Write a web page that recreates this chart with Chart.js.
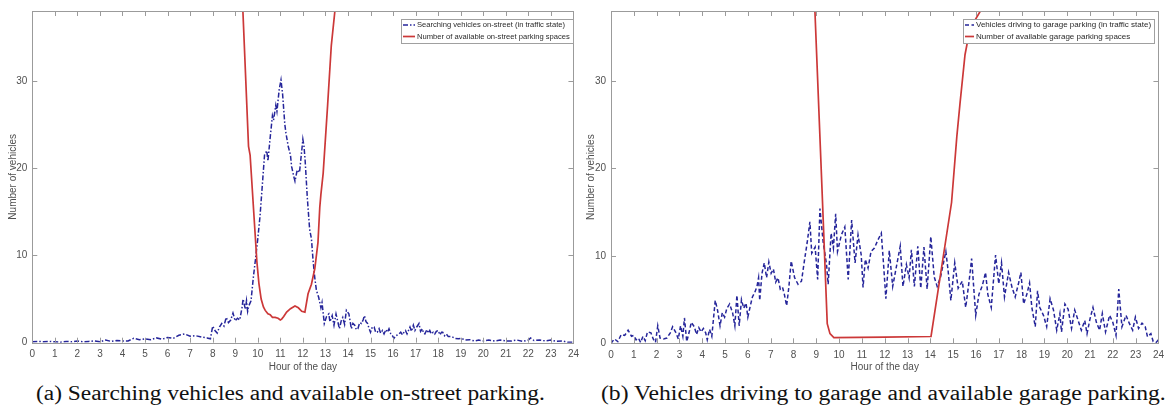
<!DOCTYPE html>
<html>
<head>
<meta charset="utf-8">
<script src="https://cdn.jsdelivr.net/npm/chart.js@4.4.1/dist/chart.umd.min.js"></script>
<style>
  body { margin: 0; background: #fff; width: 1170px; height: 410px; overflow: hidden; position: relative; }
  .panel { position: absolute; top: 0; width: 585px; height: 375px; }
  .cap { position: absolute; top: 383px; font-family: "Liberation Serif", serif; font-size: 20px; line-height: 20px;
         color: #111; white-space: nowrap; transform-origin: 0 0; }
</style>
</head>
<body>
<div class="panel" style="left:0"><canvas id="chartA" width="585" height="375"></canvas></div>
<div class="panel" style="left:585px"><canvas id="chartB" width="585" height="375"></canvas></div>
<div class="cap" id="capA" data-w="509" style="left:36px">(a) Searching vehicles and available on-street parking.</div>
<div class="cap" id="capB" data-w="565" style="left:601px">(b) Vehicles driving to garage and available garage parking.</div>
<script>
// axis ticks
const hourTicks = [0,1,2,3,4,5,6,7,8,9,10,11,12,13,14,15,16,17,18,19,20,21,22,23,24];
const vehicleTicks = [0, 10, 20, 30];

// (a) searching vehicles on-street
const streetHours = [0,0.25,0.5,0.75,1,1.25,1.5,1.75,2,2.25,2.5,2.75,3,3.25,3.5,3.75,4,4.25,4.5,4.75,5,5.25,5.5,5.75,6,6.25,6.5,6.75,7,7.25,7.5,7.75,7.9,
  8,8.1,8.2,8.3,8.4,8.5,8.6,8.7,8.8,8.9,9,9.1,9.2,9.3,9.35,9.45,9.5,9.55,9.6,9.7,9.8,9.9,
  10,10.1,10.2,10.3,10.4,10.45,10.55,10.65,10.7,10.8,10.85,10.95,11.03,11.1,11.2,11.25,11.35,11.45,11.5,11.6,11.65,11.75,11.85,11.95,
  12,12.05,12.1,12.2,12.3,12.38,12.45,12.53,12.6,12.7,12.8,12.85,12.95,13.05,13.15,13.2,13.3,13.38,13.47,13.55,13.62,13.7,13.77,13.85,13.93,
  14.04,14.1,14.15,14.22,14.3,14.37,14.44,14.52,14.6,14.67,14.73,14.8,14.87,14.94,15,15.08,15.16,15.23,15.3,15.38,15.45,15.53,15.6,15.68,15.75,15.82,15.9,15.97,
  16.04,16.12,16.2,16.26,16.34,16.42,16.5,16.55,16.62,16.7,16.75,16.82,16.9,16.97,17.05,17.15,17.22,17.3,17.35,17.41,17.5,17.57,17.63,17.7,17.78,17.85,17.92,
  18,18.08,18.15,18.2,18.28,18.36,18.45,18.6,18.75,18.9,19.03,19.2,19.4,19.6,19.8,20,20.25,20.5,20.75,21,21.25,21.5,21.75,22,22.1,22.25,22.5,22.75,23,23.25,23.5,23.75,24];
const streetSearching = [0.1,0.15,0.1,0.15,0.1,0.05,0.15,0.1,0.2,0.1,0.15,0.2,0.1,0.3,0.15,0.25,0.2,0.2,0.5,0.35,0.45,0.35,0.55,0.4,0.6,0.5,0.85,1.0,0.75,0.8,0.65,0.55,0.45,
  1.9,1.4,1.1,1.8,2.2,1.9,2.9,2.3,2.6,3.4,2.5,2.8,2.6,4.0,5.0,3.8,4.8,3.6,4.2,4.8,7.4,9.6,
  11.9,14.5,18.0,21.5,22.0,20.8,23.5,26.0,25.5,27.2,26.5,29.0,30.1,28.5,25.0,24.0,22.5,21.5,20.2,19.0,18.5,19.8,19.5,22.0,
  23.3,22.5,20.9,16.5,13.0,11.9,9.5,7.4,6.0,5.2,4.0,4.6,2.2,3.0,3.3,2.4,3.1,2.0,3.3,2.4,1.6,2.5,2.9,2.1,3.7,
  3.3,2.4,1.6,2.2,2.0,1.5,1.6,2.3,2.2,2.6,3.1,2.4,2.2,1.6,1.2,1.8,1.8,1.2,1.2,1.6,1.1,1.4,1.0,1.5,1.2,1.6,1.0,0.8,
  0.5,0.8,0.9,1.0,1.2,0.9,1.3,1.4,1.0,1.5,1.8,1.3,2.0,1.4,1.8,2.2,1.3,1.6,1.1,1.0,1.5,1.1,1.4,1.0,1.2,1.0,1.3,
  1.4,0.9,1.2,1.2,0.8,1.0,0.7,0.7,0.5,0.45,0.5,0.3,0.35,0.2,0.3,0.2,0.3,0.2,0.3,0.2,0.2,0.3,0.15,0.3,0.55,0.25,0.3,0.2,0.3,0.15,0.2,0.05,0.05];

// (a) available on-street parking spaces
const streetFreeHours = [9.0,9.34,9.59,9.66,9.96,10.05,10.15,10.25,10.33,10.45,10.55,10.65,10.77,10.9,11.0,11.06,11.15,11.28,11.45,11.65,11.8,11.95,
  12.09,12.23,12.38,12.53,12.67,12.75,12.8,12.9,13.1,13.2,13.26,13.44,13.7];
const streetFree = [58,38,22.5,21.5,9.3,6.8,5.0,4.1,3.7,3.3,3.2,2.9,2.9,2.8,2.6,2.7,3.0,3.5,3.9,4.2,4.0,3.6,
  3.5,5.6,6.7,8.5,11.5,15.5,17.0,19.4,27.3,31.5,34,38.5,45];

// (b) vehicles driving to garage parking
const garageHours = [0,0.15,0.3,0.45,0.6,0.75,0.9,1,1.1,1.2,1.3,1.4,1.5,1.6,1.75,1.85,1.95,2.05,2.15,2.3,2.45,2.6,2.7,2.85,2.95,3.05,3.15,3.22,3.32,3.42,3.52,3.65,3.75,3.85,3.95,
  4.05,4.15,4.22,4.32,4.42,4.5,4.57,4.67,4.78,4.88,4.98,5.08,5.2,5.33,5.43,5.52,5.62,5.72,5.82,5.92,6,6.1,6.2,6.3,6.4,6.47,6.52,6.62,6.72,6.82,6.92,
  7.02,7.12,7.22,7.32,7.42,7.52,7.6,7.7,7.8,7.9,8.05,8.2,8.35,8.5,8.6,8.72,8.8,8.95,9.06,9.16,9.3,9.45,9.52,9.65,9.75,9.85,9.93,
  10.1,10.25,10.4,10.55,10.7,10.83,10.97,11.05,11.15,11.27,11.4,11.55,11.7,11.85,11.95,12.05,12.2,12.35,12.5,12.68,12.8,12.95,13.07,13.17,13.3,13.45,13.58,13.72,13.86,
  14.02,14.17,14.3,14.45,14.6,14.68,14.78,14.9,15.07,15.22,15.4,15.55,15.7,15.81,15.99,16.13,16.28,16.42,16.52,16.67,16.86,17,17.12,17.25,17.43,17.58,17.72,17.87,17.97,
  18.09,18.23,18.35,18.45,18.6,18.7,18.8,18.96,19.1,19.25,19.4,19.54,19.68,19.75,19.9,20.04,20.19,20.33,20.48,20.62,20.77,20.87,21,21.13,21.28,21.42,21.54,21.68,21.86,
  22,22.14,22.26,22.4,22.58,22.72,22.87,22.99,23.13,23.28,23.42,23.52,23.67,23.77,23.9,24];
const garageDriving = [0,0.5,0.2,1.0,0.9,1.5,0.8,0.9,0.4,0.6,0.1,0.8,0.3,1.3,1.2,0.5,0.1,2.0,0.6,0.5,0.6,1.2,1.9,1.2,0.5,2.0,0.8,2.9,0.2,1.2,2.4,1.9,1.0,1.8,1.3,
  1.7,1.2,0.4,1.6,0.8,3.0,4.9,3.8,2.0,3.5,3.0,4.0,4.5,3.5,2.0,5.5,2.0,5.0,4.0,4.6,3.0,4.2,5.3,5.8,6.5,7.5,4.9,8.0,9.2,7.5,9.3,
  8.0,8.5,7.0,7.5,6.2,6.4,5.6,4.3,6.5,9.4,7.5,6.75,7.1,9.8,11.5,13.9,10.3,11.0,7.3,15.4,11.6,9.0,6.75,12.6,10.9,14.8,10.5,
  12.4,13.3,7.3,14.1,9.2,12.4,10.1,6.4,9.6,8.6,10.5,10.9,11.8,12.6,9.0,5.1,10.6,6.5,8.6,11.1,6.5,9.0,7.5,10.7,6.5,11.1,6.3,11.0,6.2,
  12.2,7.6,6.5,7.6,9.5,10.5,8.3,4.9,9.2,6.3,7.1,4.1,7.1,9.7,3.2,5.6,6.6,8.1,5.6,4.1,10.1,6.8,9.2,5.3,8.1,6.4,5.3,6.9,8.1,
  4.5,5.6,6.9,4.1,1.9,6.0,4.1,3.2,1.9,5.1,3.8,1.5,3.4,1.3,4.5,3.9,1.7,3.8,2.6,1.5,2.6,1.1,2.8,4.1,2.4,1.5,3.4,1.3,3.2,
  2.4,0.9,6.2,1.9,3.2,2.3,1.5,3.0,1.7,2.3,1.9,0.75,1.1,0.2,0.1,0.4];

// (b) available garage parking spaces
const garageFreeHours = [8.6,8.94,9.26,9.48,9.6,9.77,12.0,14.03,14.93,15.16,15.3,15.52,15.74,16.31,16.6];
const garageFree = [60,38,17,2.25,1.1,0.65,0.7,0.78,16.1,23.6,27.4,33,36,38.5,39.5];

const BLUE = '#25259a';
const RED = '#cc3838';
const GREY = '#505050';
const SANS = '"Liberation Sans", Arial, sans-serif';

const pts = (xs, ys) => xs.map((x, i) => ({ x: x, y: ys[i] }));

// box round the plot with inward tick marks (MATLAB style)
const framePlugin = {
  id: 'frame',
  afterDatasetsDraw(chart) {
    const { ctx, chartArea: a, scales } = chart;
    ctx.save();
    ctx.strokeStyle = '#9b9b9b';
    ctx.lineWidth = 1;
    ctx.strokeRect(Math.round(a.left) + 0.5, Math.round(a.top) + 0.5, Math.round(a.right - a.left), Math.round(a.bottom - a.top));
    ctx.beginPath();
    scales.x.ticks.forEach(t => {
      const px = Math.round(scales.x.getPixelForValue(t.value)) + 0.5;
      ctx.moveTo(px, a.bottom); ctx.lineTo(px, a.bottom - 5);
      ctx.moveTo(px, a.top); ctx.lineTo(px, a.top + 5);
    });
    scales.y.ticks.forEach(t => {
      const py = Math.round(scales.y.getPixelForValue(t.value)) + 0.5;
      ctx.moveTo(a.left, py); ctx.lineTo(a.left + 5, py);
      ctx.moveTo(a.right, py); ctx.lineTo(a.right - 5, py);
    });
    ctx.stroke();
    ctx.restore();
  }
};

// legend box inside the top right corner
const legendPlugin = {
  id: 'boxLegend',
  afterDraw(chart, args, opts) {
    const { ctx, chartArea: a } = chart;
    const sets = chart.data.datasets;
    ctx.save();
    ctx.font = opts.size + 'px ' + SANS;
    const tw = Math.max(...sets.map(d => ctx.measureText(d.label).width));
    const w = Math.round(tw + opts.textOff + 3), h = 24;
    const x = Math.round(a.right - opts.inset - w), y = Math.round(a.top + 8);
    ctx.fillStyle = '#fff';
    ctx.fillRect(x, y, w, h);
    ctx.strokeStyle = '#a0a0a0';
    ctx.lineWidth = 1;
    ctx.strokeRect(x + 0.5, y + 0.5, w, h);
    sets.forEach((d, i) => {
      const ly = y + 6 + i * 11.5;
      ctx.strokeStyle = d.borderColor;
      ctx.lineWidth = d.borderWidth;
      ctx.setLineDash(d.borderDash || []);
      ctx.beginPath();
      ctx.moveTo(x + 2, ly);
      ctx.lineTo(x + opts.textOff - 2, ly);
      ctx.stroke();
      ctx.setLineDash([]);
      ctx.fillStyle = '#2a2a2a';
      ctx.textBaseline = 'middle';
      ctx.fillText(d.label, x + opts.textOff, ly);
    });
    ctx.restore();
  }
};

function makeChart(id, cfg) {
  return new Chart(document.getElementById(id), {
    type: 'line',
    data: {
      datasets: [
        { label: cfg.blueLabel, data: cfg.blue, borderColor: BLUE, borderWidth: 1.5, borderDash: cfg.dash,
          pointRadius: 0, tension: 0, order: 2 },
        { label: cfg.redLabel, data: cfg.red, borderColor: RED, borderWidth: 1.7,
          pointRadius: 0, tension: 0, order: 1 }
      ]
    },
    options: {
      responsive: false,
      animation: false,
      devicePixelRatio: 1,
      layout: { padding: { left: 0, right: cfg.padRight, top: cfg.padTop, bottom: 0 } },
      plugins: {
        legend: { display: false },
        tooltip: { enabled: false },
        boxLegend: { inset: cfg.legendInset, textOff: cfg.textOff, size: cfg.legendSize }
      },
      scales: {
        x: {
          type: 'linear', min: 0, max: 24,
          afterBuildTicks: s => { s.ticks = hourTicks.map(v => ({ value: v })); },
          afterFit: s => { s.height = cfg.xAxisH; },
          grid: { display: false, drawTicks: false },
          border: { display: false },
          ticks: { autoSkip: false, maxRotation: 0, padding: 6, color: GREY, font: { family: SANS, size: 10 } },
          title: { display: true, text: 'Hour of the day', color: GREY, font: { family: SANS, size: 10 },
                   padding: { top: 0, bottom: 2 } }
        },
        y: {
          type: 'linear', min: 0, max: 38,
          afterBuildTicks: s => { s.ticks = vehicleTicks.map(v => ({ value: v })); },
          afterFit: s => { s.width = cfg.yAxisW; },
          grid: { display: false, drawTicks: false },
          border: { display: false },
          ticks: { padding: 5, color: GREY, font: { family: SANS, size: 10 } },
          title: { display: true, text: 'Number of vehicles', color: GREY, font: { family: SANS, size: 10 },
                   padding: { top: cfg.yTitlePad, bottom: 0 } }
        }
      }
    },
    plugins: [framePlugin, legendPlugin]
  });
}

makeChart('chartA', {
  blue: pts(streetHours, streetSearching),
  red: pts(streetFreeHours, streetFree),
  blueLabel: 'Searching vehicles on-street (in traffic state)',
  redLabel: 'Number of available on-street parking spaces',
  dash: [5, 2, 1.5, 2],
  padRight: 8, padTop: 5, xAxisH: 32.3, yAxisW: 32.3, yTitlePad: 7,
  legendInset: 0, textOff: 16, legendSize: 7.6
});

makeChart('chartB', {
  blue: pts(garageHours, garageDriving),
  red: pts(garageFreeHours, garageFree),
  blueLabel: 'Vehicles driving to garage parking (in traffic state)',
  redLabel: 'Number of available garage parking spaces',
  dash: [4, 2.5],
  padRight: 9, padTop: 6, xAxisH: 31.7, yAxisW: 26, yTitlePad: 0,
  legendInset: 4, textOff: 13, legendSize: 8
});

// stretch captions to the width they take in the reference
document.querySelectorAll('.cap').forEach(el => {
  const k = Number(el.dataset.w) / el.offsetWidth;
  el.style.transform = 'scaleX(' + k.toFixed(3) + ')';
});
</script>
</body>
</html>
